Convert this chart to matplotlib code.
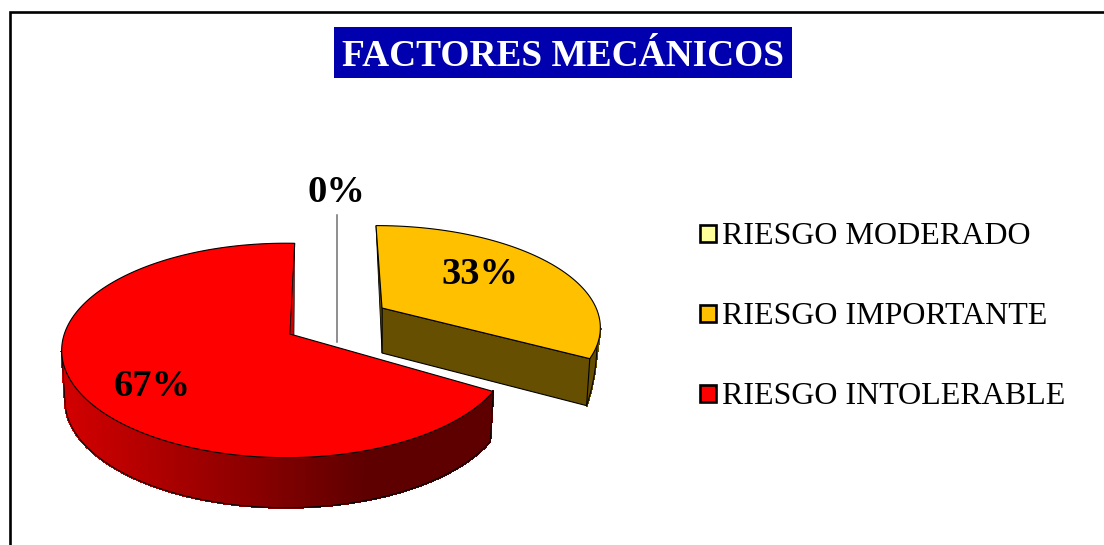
import numpy as np
import matplotlib
matplotlib.use("Agg")
import matplotlib.pyplot as plt
from matplotlib.collections import PolyCollection
from matplotlib.patches import Polygon, Rectangle

categorias = ["RIESGO MODERADO", "RIESGO IMPORTANTE", "RIESGO INTOLERABLE"]
valores = [0, 33, 67]
etiquetas = ["0%", "33%", "67%"]
colores = ["#FFFF99", "#FFC000", "#FF0000"]

plt.rcParams['font.family'] = ['Liberation Serif', 'DejaVu Serif']

fig = plt.figure(figsize=(11.04, 5.45), dpi=100)
ax = fig.add_axes([0, 0, 1, 1])
ax.set_xlim(0, 1104)
ax.set_ylim(545, 0)
ax.axis('off')

# marco (solo se ve arriba y a la izquierda)
ax.plot([9.5, 9.5, 1104], [545, 11.5, 11.5], color='black', lw=1.9, solid_joinstyle='miter')

# angulos de cada sector, en sentido horario desde arriba
fracs = np.array(valores) / sum(valores)
fin = np.cumsum(fracs) * 2 * np.pi
ini = fin - fracs * 2 * np.pi

K = 0.144


def arco(t1, t2, cx, cy, a, b, n=200):
    # elipse con perspectiva: lo de atras queda mas pequeno
    t = np.linspace(t1, t2, n)
    w = 1 + K * np.cos(t)
    return cx + a * np.sin(t) / w, cy - b * np.cos(t) / w


def tapa(xa, ya, x, y, color):
    pts = np.column_stack([np.r_[xa, x], np.r_[ya, y]])
    ax.add_patch(Polygon(pts, closed=True, fc=color, ec='black', lw=0.8, zorder=5))


def lateral(x, y, alto, cx, fn_color, zorder=3):
    # pared exterior, la base un poco mas estrecha que la tapa
    xb = cx + (x - cx) * 0.985
    yb = y + alto
    quads = []
    cols = []
    for i in range(len(x) - 1):
        quads.append([(x[i], y[i]), (x[i + 1], y[i + 1]), (xb[i + 1], yb[i + 1]), (xb[i], yb[i])])
        cols.append(fn_color((x[i] + x[i + 1]) / 2))
    ax.add_collection(PolyCollection(quads, facecolors=cols, edgecolors=cols, linewidths=1.0,
                                     antialiased=False, zorder=zorder))
    ax.plot(xb, yb, color='black', lw=0.7, zorder=zorder)
    return xb, yb


def rojo_lado(x):
    f = np.clip((x - 65) / 300, 0, 1)
    return (0.82 - 0.45 * f, 0, 0)


# sector rojo
cx_r = 286
xr, yr = arco(ini[2] + 0.02, fin[2] + 0.045, cx_r, 335, 222, 105)
apex_r = (290, 334)
izq = np.argmin(xr) + 1
xb, yb = lateral(xr[:izq], yr[:izq], 50, cx_r, rojo_lado)
ax.plot([xr[0], xb[0]], [yr[0], yb[0]], color='black', lw=0.6, zorder=4)
ax.plot([xr[izq - 1], xb[izq - 1]], [yr[izq - 1], yb[izq - 1]], color='black', lw=0.6, zorder=4)
ax.add_patch(Polygon([(xr[-1], yr[-1]), (apex_r[0] + 4, apex_r[1] + 1), apex_r],
                     fc='#D00000', ec='black', lw=0.4, zorder=6))
tapa(apex_r[0], apex_r[1], xr, yr, colores[2])

# sector naranja separado
cx_n = 376
xn, yn = arco(ini[1], fin[1] - 0.06, cx_n, 313, 222, 100)
apex_n = (382, 308)
der = np.argmax(xn)
alto_n = np.linspace(14, 47, len(xn) - der)
xb, yb = lateral(xn[der:], yn[der:], alto_n, cx_n, lambda x: '#664F00')
ax.add_patch(Polygon([apex_n, (xn[-1], yn[-1]), (xb[-1], yb[-1]), (apex_n[0], apex_n[1] + 45)],
                     fc='#664F00', ec='black', lw=0.8, zorder=4))
ax.add_patch(Polygon([(xn[0], yn[0]), apex_n, (apex_n[0], apex_n[1] + 45)],
                     fc='#664F00', ec='black', lw=0.6, zorder=4))
tapa(apex_n[0], apex_n[1], xn, yn, colores[1])

# linea guia del 0%
ax.plot([337, 337], [215, 342], color='#707070', lw=1.1, zorder=1)

# etiquetas de datos
pos_etq = [(336, 193), (480, 274), (152, 387)]
for e, (x, y) in zip(etiquetas, pos_etq):
    ax.text(x, y, e, fontsize=27.7, fontweight='bold', ha='center', va='center', zorder=7)

# titulo
ax.add_patch(Rectangle((334, 27), 458, 51, fc='#0000AE', ec='none'))
ax.text(563, 56, "FACTORES MECÁNICOS", color='white', fontsize=26.9, fontweight='bold', ha='center', va='center')

# leyenda
ley_y = [233, 313, 393]
for nombre, col, y in zip(categorias, colores, ley_y):
    ax.add_patch(Rectangle((699.5, y - 8), 16.5, 16.5, fc=col, ec='black', lw=1.9))
    ax.text(722, y + 3, nombre, fontsize=23, ha='left', va='center')

plt.savefig('out.png', dpi=100)
